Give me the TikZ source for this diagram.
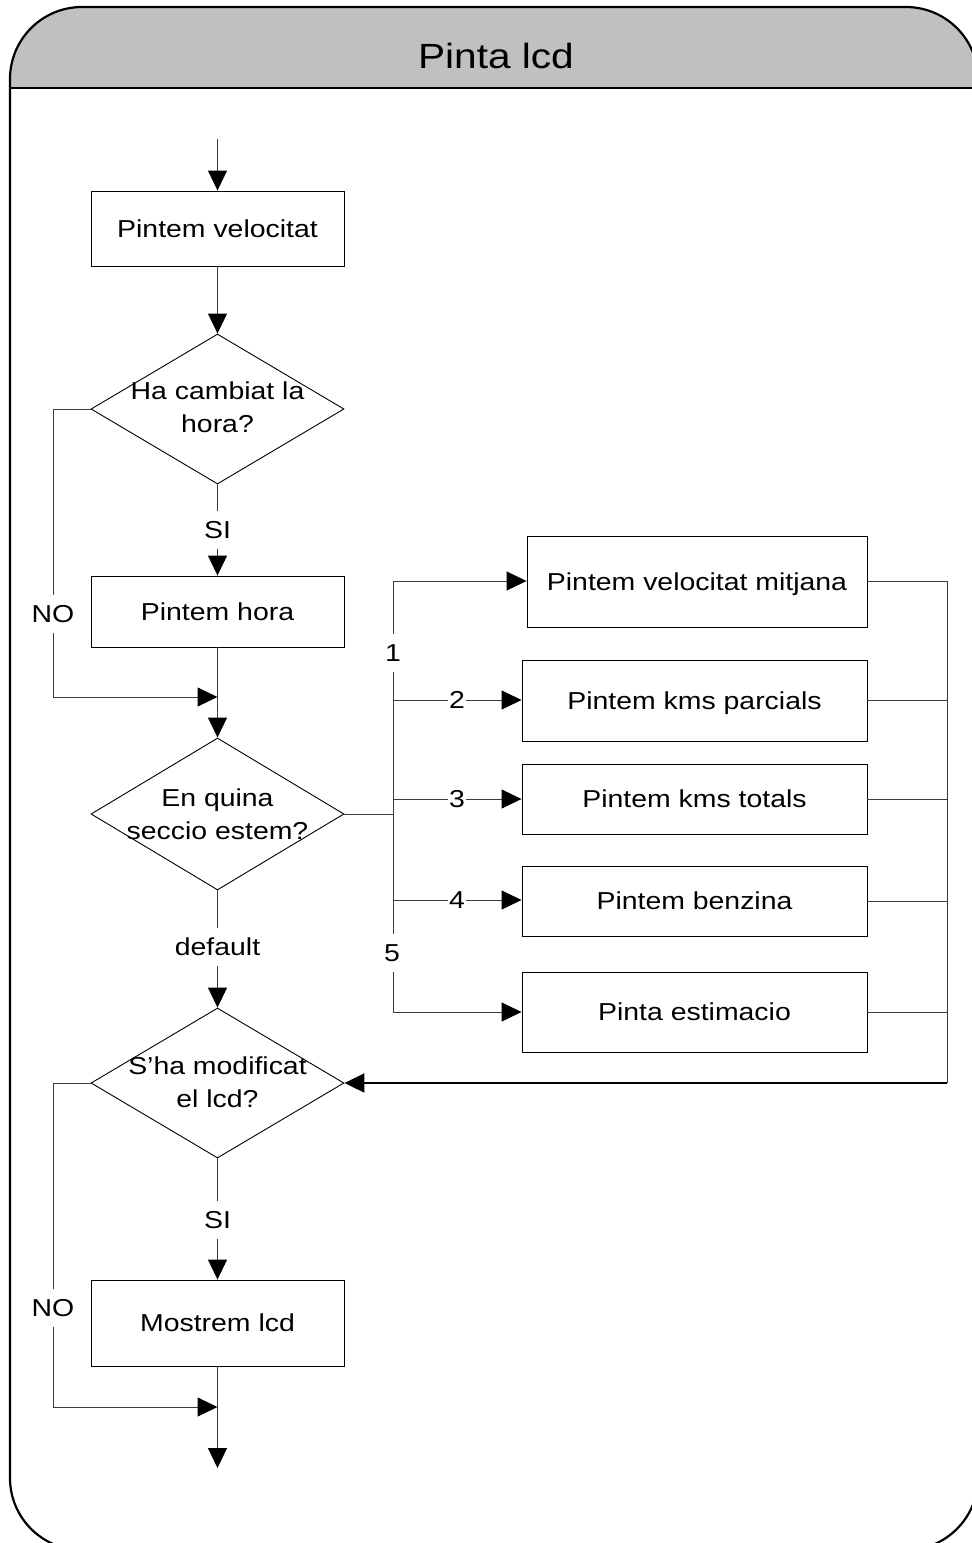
\documentclass[tikz,border=0pt]{standalone}
\usepackage{fontspec}
\setmainfont{Liberation Sans}[FakeStretch=1.16]
\usetikzlibrary{arrows.meta,shapes.geometric}

\definecolor{headgray}{RGB}{192,192,192}
\definecolor{wirecol}{RGB}{60,60,60}

\tikzset{
  body/.style={font=\fontsize{24.5}{33}\selectfont},
  procbox/.style={body, draw=black, line width=0.9pt, rectangle,
    minimum width=253pt, inner sep=0pt, text height=17.5pt, text depth=0pt},
  sidebox/.style={procbox, minimum width=345pt},
  decision/.style={draw=black, line width=0.9pt, diamond,
    minimum width=253pt, minimum height=150pt, inner sep=0pt},
  dtext/.style={body, align=center, inner sep=0pt},
  wire/.style={draw=wirecol, line width=1pt},
  flow/.style={wire, -{Triangle[length=20pt,width=19pt,color=black]}},
  tag/.style={body, fill=white, inner xsep=1pt, inner ysep=10pt,
    text height=17.5pt, text depth=0pt},
}

\begin{document}
\begin{tikzpicture}[x=1pt,y=-1pt]
  \useasboundingbox (0,0) rectangle (972,1543);
  \clip (0,0) rectangle (972,1543);

  % frame with grey title band
  \begin{scope}
    \clip[rounded corners=72pt] (10,7) rectangle (978,1550);
    \fill[headgray] (10,7) rectangle (978,88);
  \end{scope}
  \draw[line width=2.2pt, rounded corners=72pt] (10,7) rectangle (978,1550);
  \draw[line width=2.2pt] (10,88) -- (978,88);
  \node[font=\fontsize{35}{40}\selectfont, anchor=base, inner sep=0pt] (title) at (496,68) {Pinta lcd};

  % main column
  \coordinate (entry) at (217.5,139);
  \node[procbox, minimum height=75pt] (vel) at (217.5,228.5) {Pintem velocitat};
  \node[decision] (hchg) at (217.5,409) {};
  \node[dtext] (hchgtxt) at (217.5,407.5) {Ha cambiat la\\hora?};
  \node[procbox, minimum height=71pt] (hora) at (217.5,611.5) {Pintem hora};
  \node[decision, minimum height=152pt] (sec) at (217.5,814) {};
  \node[dtext] (sectxt) at (217.5,814) {En quina\\seccio estem?};
  \node[decision] (mod) at (217.5,1083) {};
  \node[dtext] (modtxt) at (217.5,1082.5) {S’ha modificat\\el lcd?};
  \node[procbox, minimum height=86pt] (show) at (217.5,1323) {Mostrem lcd};
  \coordinate (exit) at (217.5,1468);

  % section boxes
  \node[sidebox, minimum width=340pt, minimum height=91pt] (s1) at (697,581.5) {Pintem velocitat mitjana};
  \node[sidebox, minimum height=81pt] (s2) at (694.5,700.5) {Pintem kms parcials};
  \node[sidebox, minimum height=70pt] (s3) at (694.5,799) {Pintem kms totals};
  \node[sidebox, minimum height=70pt] (s4) at (694.5,901) {Pintem benzina};
  \node[sidebox, minimum height=80pt] (s5) at (694.5,1012) {Pinta estimacio};

  % helper points for the routed lines
  \coordinate (no1a) at (53,409);
  \coordinate (no1b) at (53,697);
  \coordinate (join1) at (217.5,697);
  \coordinate (no2a) at (53,1083);
  \coordinate (no2b) at (53,1407);
  \coordinate (join2) at (217.5,1407);
  \coordinate (busin) at (393,814);
  \coordinate (bus1) at (393,581);
  \coordinate (bus2) at (393,700);
  \coordinate (bus3) at (393,799);
  \coordinate (bus4) at (393,900);
  \coordinate (bus5) at (393,1012);
  \coordinate (ret1) at (947,581);
  \coordinate (retb) at (947,1083);

  % main flow
  \draw[flow] (entry) -- (vel);
  \draw[flow] (vel) -- (hchg);
  \draw[flow] (hchg) -- (hora);
  \draw[flow] (hchg.west) -- (no1a) -- (no1b) -- (join1);
  \draw[flow] (hora) -- (sec);
  \draw[flow] (sec) -- (mod);
  \draw[flow] (mod) -- (show);
  \draw[flow] (mod.west) -- (no2a) -- (no2b) -- (join2);
  \draw[flow] (show) -- (exit);

  % case branches
  \draw[wire] (sec.east) -- (busin);
  \draw[wire] (bus1) -- (bus5);
  \draw[flow] (bus1) -- (bus1 -| s1.west);
  \draw[flow] (bus2) -- (bus2 -| s2.west);
  \draw[flow] (bus3) -- (bus3 -| s3.west);
  \draw[flow] (bus4) -- (bus4 -| s4.west);
  \draw[flow] (bus5) -- (bus5 -| s5.west);

  % return bus
  \draw[wire] (s1.east |- ret1) -- (ret1);
  \draw[wire] (s2.east) -- (s2.east -| ret1);
  \draw[wire] (s3.east) -- (s3.east -| ret1);
  \draw[wire] (s4.east) -- (s4.east -| ret1);
  \draw[wire] (s5.east) -- (s5.east -| ret1);
  \draw[wire] (ret1) -- (retb);
  \draw[flow, draw=black, line width=2pt] (retb) -- (mod.east);

  % line labels
  \node[tag] (si1) at (217.5,530) {SI};
  \node[tag] (no1) at (53,614) {NO};
  \node[tag] (dflt) at (217.5,947) {default};
  \node[tag] (si2) at (217.5,1220) {SI};
  \node[tag] (no2) at (53,1308) {NO};
  \node[tag] (c1) at (393,653) {1};
  \node[tag] (c2) at (457,700) {2};
  \node[tag] (c3) at (457,799) {3};
  \node[tag] (c4) at (457,900) {4};
  \node[tag] (c5) at (392,953) {5};
\end{tikzpicture}
\end{document}
